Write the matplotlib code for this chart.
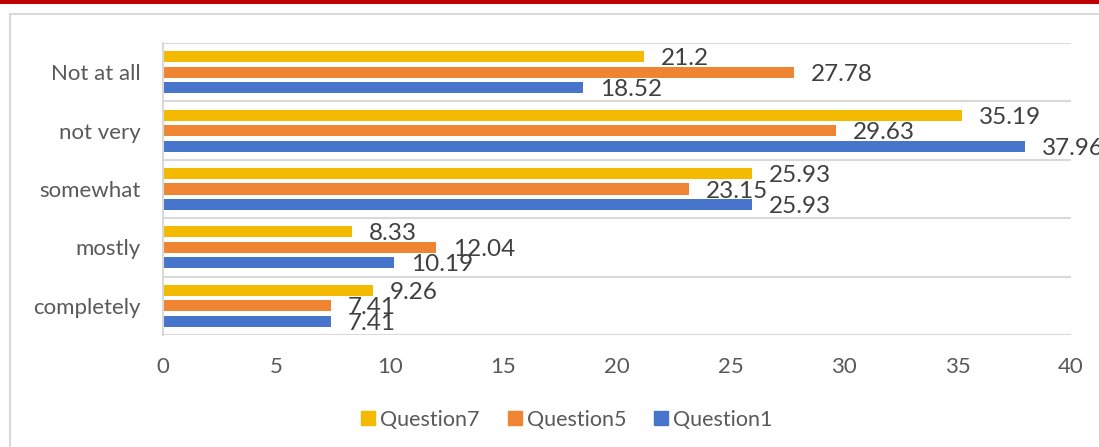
import matplotlib
matplotlib.use("Agg")
import matplotlib.pyplot as plt
from matplotlib.lines import Line2D
from matplotlib.patches import Rectangle
import numpy as np

categories = ["completely", "mostly", "somewhat", "not very", "Not at all"]
series_names = ["Question7", "Question5", "Question1"]
question7 = [9.26, 8.33, 25.93, 35.19, 21.2]
question5 = [7.41, 12.04, 23.15, 29.63, 27.78]
question1 = [7.41, 10.19, 25.93, 37.96, 18.52]
x_ticks = [0, 5, 10, 15, 20, 25, 30, 35, 40]

colors = ["#F4BA00", "#EF8533", "#4775CC"]
FONT = ["Lato", "DejaVu Sans"]
plt.rcParams["font.family"] = FONT

W, H = 1099, 447
fig = plt.figure(figsize=(W / 100, H / 100), dpi=100)

# red top line and chart border
fig.add_artist(Rectangle((0, 1 - 3.5 / H), 1, 3.5 / H, transform=fig.transFigure,
                         facecolor="#C00000", edgecolor="none"))
fig.add_artist(Rectangle((9.5 / W, -0.1), 1.2, 1 - 14.5 / H + 0.1, transform=fig.transFigure,
                         facecolor="none", edgecolor="#D9D9D9", linewidth=1.5))

ax = fig.add_axes([163 / W, 1 - 335 / H, (1071 - 163) / W, (335 - 43) / H])

y = np.arange(len(categories))
off = 0.265
h = 0.19
series = [question7, question5, question1]
offsets = [off, 0, -off]
for vals, c, o, name in zip(series, colors, offsets, series_names):
    ax.barh(y + o, vals, height=h, color=c, label=name)
    for yi, v in zip(y, vals):
        ax.annotate(f"{v:g}", (v, yi + o), xytext=(12.2, 0), textcoords="offset points",
                    ha="left", va="center_baseline", fontsize=17.5, color="#404040",
                    annotation_clip=False)

ax.set_xlim(0, 40)
ax.set_ylim(-0.5, len(categories) - 0.5)
ax.set_xticks(x_ticks)
ax.set_xticklabels([str(t) for t in x_ticks])
ax.set_yticks(y)
ax.set_yticklabels(categories)
ax.tick_params(axis="x", length=0, pad=16, labelsize=16, labelcolor="#595959")
ax.tick_params(axis="y", length=0, pad=16, labelsize=16, labelcolor="#595959")

for b in np.arange(-0.5, len(categories), 1.0):
    ax.axhline(b, color="#D9D9D9", linewidth=1.5, zorder=0)
for s in ["top", "right", "bottom"]:
    ax.spines[s].set_visible(False)
ax.spines["left"].set_color("#D9D9D9")
ax.spines["left"].set_linewidth(1.5)

handles = [Line2D([], [], marker="s", linestyle="none", markersize=10,
                  markerfacecolor=c, markeredgecolor=c) for c in colors]
leg = fig.legend(handles, series_names, loc="center", bbox_to_anchor=(566 / W, 1 - 420 / H),
                 ncol=3, frameon=False, fontsize=15.5, handletextpad=0.16,
                 columnspacing=1.23, handlelength=0.8, labelcolor="#595959")

fig.savefig("out.png", dpi=100)
